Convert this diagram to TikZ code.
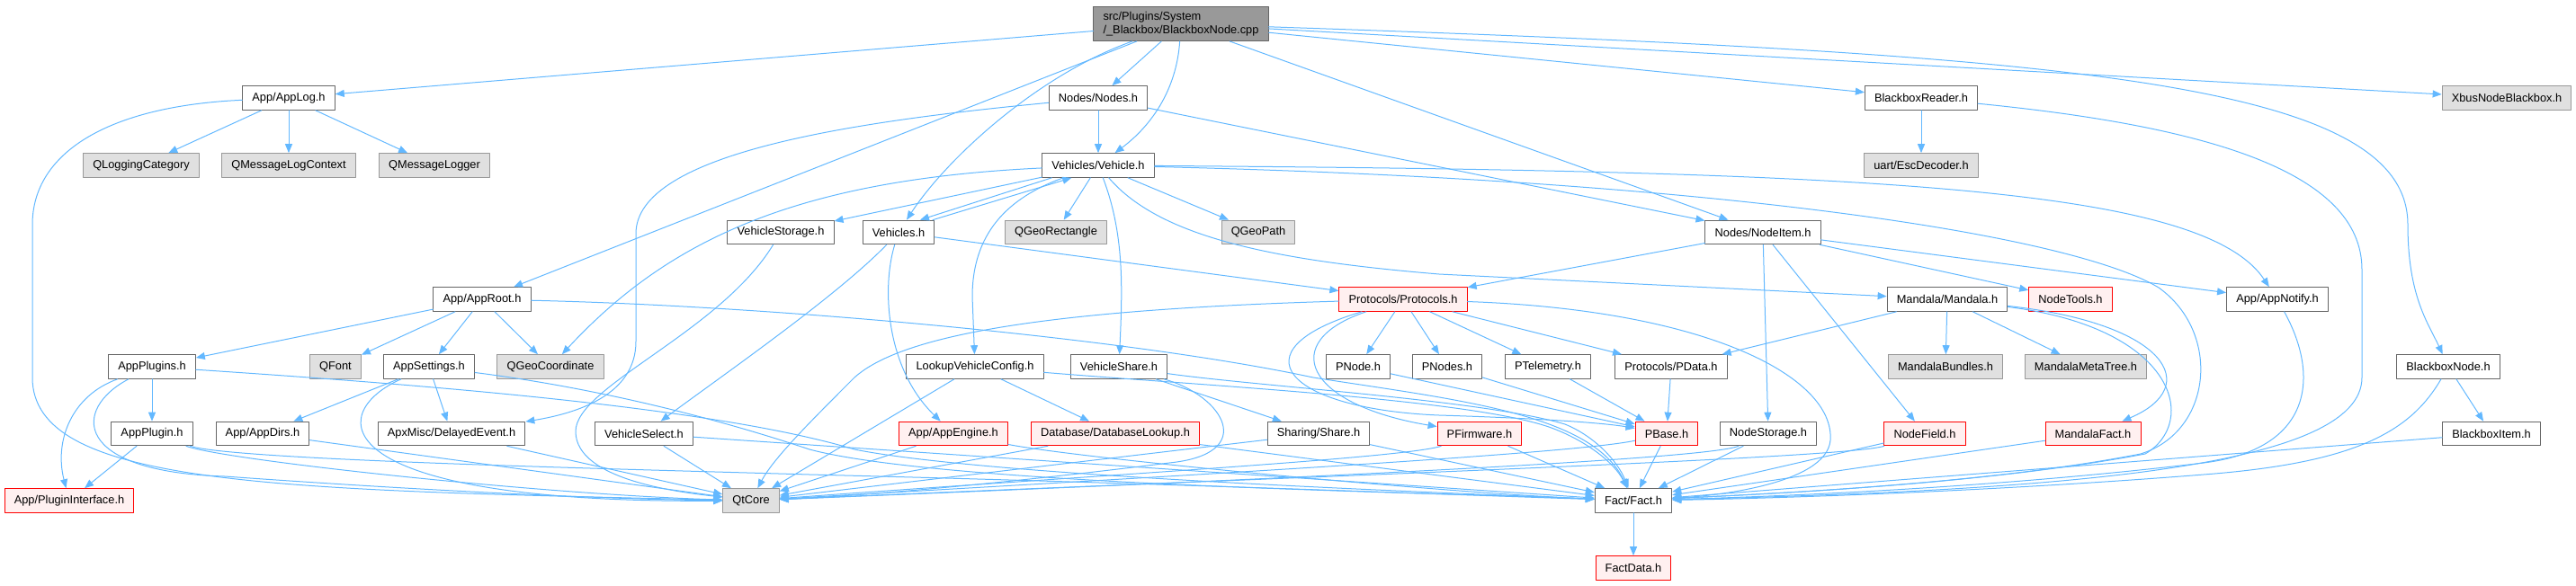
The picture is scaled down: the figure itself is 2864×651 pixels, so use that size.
\documentclass[tikz,border=0pt]{standalone}
\usepackage{fontspec}
\setmainfont{Liberation Sans}
\usetikzlibrary{arrows.meta}
\definecolor{edgeblue}{HTML}{63B8FF}
\definecolor{boxgray}{HTML}{666666}
\definecolor{extgray}{HTML}{999999}
\definecolor{extfill}{HTML}{E0E0E0}
\definecolor{rootfill}{HTML}{999999}
\definecolor{truncred}{HTML}{FF0000}
\definecolor{truncfill}{HTML}{FFF0F0}
\begin{document}
\begin{tikzpicture}[x=0.75pt, y=-0.75pt, line cap=round, line join=round,
    file/.style={draw=boxgray, fill=white, line width=0.75pt, inner xsep=8pt,
      inner ysep=0pt, minimum height=20pt, font=\fontsize{9.6}{11.5}\selectfont},
    extfile/.style={file, draw=extgray, fill=extfill},
    truncfile/.style={file, draw=truncred, fill=truncfill},
    rootfile/.style={file, fill=rootfill, align=left, inner ysep=4pt},
    dep/.style={draw=edgeblue, line width=0.75pt, -{Triangle[length=7.5pt, width=6pt]}}]
  \useasboundingbox (0,0) rectangle (2864,651);
  \node[rootfile] (root) at (1313,26.5) {src/Plugins/System\\/\_Blackbox/BlackboxNode.cpp};
  \node[file] (applog) at (321,109) {App/AppLog.h};
  \node[file] (nodes) at (1221,109) {Nodes/Nodes.h};
  \node[file] (bbreader) at (2136,109) {BlackboxReader.h};
  \node[extfile] (xbus) at (2787,109) {XbusNodeBlackbox.h};
  \node[extfile] (qlogcat) at (157,184) {QLoggingCategory};
  \node[extfile] (qmsgctx) at (321,184) {QMessageLogContext};
  \node[extfile] (qmsglog) at (483,184) {QMessageLogger};
  \node[file] (vehicle) at (1221,184) {Vehicles/Vehicle.h};
  \node[extfile] (escdec) at (2136,184) {uart/EscDecoder.h};
  \node[file] (vstorage) at (868,258.5) {VehicleStorage.h};
  \node[file] (vehicles) at (999,258.5) {Vehicles.h};
  \node[extfile] (qgeorect) at (1174,258.5) {QGeoRectangle};
  \node[extfile] (qgeopath) at (1399,258.5) {QGeoPath};
  \node[file] (nodeitem) at (1960,258.5) {Nodes/NodeItem.h};
  \node[file] (approot) at (536,333) {App/AppRoot.h};
  \node[truncfile] (protocols) at (1560,333) {Protocols/Protocols.h};
  \node[file] (mandala) at (2165,333) {Mandala/Mandala.h};
  \node[truncfile] (nodetools) at (2302,333) {NodeTools.h};
  \node[file] (appnotify) at (2532,333) {App/AppNotify.h};
  \node[file] (appplugins) at (169,408) {AppPlugins.h};
  \node[extfile] (qfont) at (373,408) {QFont};
  \node[file] (appsettings) at (477,408) {AppSettings.h};
  \node[extfile] (qgeocoord) at (612,408) {QGeoCoordinate};
  \node[file] (lookupcfg) at (1084,408) {LookupVehicleConfig.h};
  \node[file] (vshare) at (1244,408) {VehicleShare.h};
  \node[file] (pnode) at (1510,408) {PNode.h};
  \node[file] (pnodes) at (1609,408) {PNodes.h};
  \node[file] (ptelem) at (1721,408) {PTelemetry.h};
  \node[file] (pdata) at (1858,408) {Protocols/PData.h};
  \node[extfile] (mbundles) at (2163,408) {MandalaBundles.h};
  \node[extfile] (mmetatree) at (2319,408) {MandalaMetaTree.h};
  \node[file] (bbnode) at (2722,408) {BlackboxNode.h};
  \node[file] (appplugin) at (169,482.5) {AppPlugin.h};
  \node[file] (appdirs) at (292,482.5) {App/AppDirs.h};
  \node[file] (delayed) at (502,482.5) {ApxMisc/DelayedEvent.h};
  \node[file] (vselect) at (716,482.5) {VehicleSelect.h};
  \node[truncfile] (appengine) at (1060,482.5) {App/AppEngine.h};
  \node[truncfile] (dblookup) at (1240,482.5) {Database/DatabaseLookup.h};
  \node[file] (share) at (1466,482.5) {Sharing/Share.h};
  \node[truncfile] (pfirmware) at (1645,482.5) {PFirmware.h};
  \node[truncfile] (pbase) at (1853,482.5) {PBase.h};
  \node[file] (nodestorage) at (1966,482.5) {NodeStorage.h};
  \node[truncfile] (nodefield) at (2140,482.5) {NodeField.h};
  \node[truncfile] (mfact) at (2327,482.5) {MandalaFact.h};
  \node[file] (bbitem) at (2770,482.5) {BlackboxItem.h};
  \node[truncfile] (pluginif) at (77,557) {App/PluginInterface.h};
  \node[extfile] (qtcore) at (835,557) {QtCore};
  \node[file] (fact) at (1816,557) {Fact/Fact.h};
  \node[truncfile] (factdata) at (1816,632) {FactData.h};
  % includes of the source file
  \draw[dep] (root) -- (applog);
  \draw[dep] (root) -- (approot);
  \draw[dep] (root) .. controls (1150,85) and (1050,180) .. (vehicles);
  \draw[dep] (root) -- (nodes);
  \draw[dep] (root) .. controls (1308,100) and (1280,140) .. (vehicle);
  \draw[dep] (root) -- (nodeitem);
  \draw[dep] (root) -- (bbreader);
  \draw[dep] (root) -- (xbus);
  \draw[dep] (root) .. controls (2300,60) and (2677,90) .. (2677,250) .. controls (2677,330) and (2700,360) .. (bbnode);
  \draw[dep] (applog) -- (qlogcat);
  \draw[dep] (applog) -- (qmsgctx);
  \draw[dep] (applog) -- (qmsglog);
  \draw[dep] (applog) .. controls (120,118) and (36,170) .. (36,250) -- (36,420) .. controls (36,540) and (300,545) .. (qtcore);
  \draw[dep] (nodes) -- (vehicle);
  \draw[dep] (nodes) -- (nodeitem);
  \draw[dep] (nodes) .. controls (950,135) and (707,170) .. (707,260) -- (707,380) .. controls (707,440) and (640,460) .. (delayed);
  \draw[dep] (bbreader) -- (escdec);
  \draw[dep] (bbreader) .. controls (2450,140) and (2626,190) .. (2626,300) -- (2626,420) .. controls (2626,520) and (2300,545) .. (fact);
  % vehicle
  \draw[dep] (vehicle) -- (vstorage);
  \draw[dep] (vehicle.195) -- (vehicles.30);
  \draw[dep] (vehicles.20) -- (vehicle.205);
  \draw[dep] (vehicle) -- (qgeorect);
  \draw[dep] (vehicle) -- (qgeopath);
  \draw[dep] (vehicle) .. controls (880,200) and (740,270) .. (qgeocoord);
  \draw[dep] (vehicle) .. controls (1120,220) and (1081,260) .. (1081,330) -- (lookupcfg);
  \draw[dep] (vehicle) .. controls (1250,260) and (1248,320) .. (vshare);
  \draw[dep] (vehicle) .. controls (1290,265) and (1420,290) .. (1600,305) -- (mandala);
  \draw[dep] (vehicle) .. controls (2100,190) and (2450,210) .. (appnotify);
  \draw[dep] (vehicle) .. controls (1900,200) and (2300,260) .. (2400,320) .. controls (2470,370) and (2460,480) .. (2380,505) .. controls (2200,540) and (1950,550) .. (fact);
  \draw[dep] (vehicles) .. controls (930,330) and (800,420) .. (vselect);
  \draw[dep] (vehicles) .. controls (980,320) and (985,410) .. (appengine);
  \draw[dep] (vehicles) -- (protocols);
  \draw[dep] (vstorage) .. controls (800,370) and (640,430) .. (640,480) .. controls (640,535) and (760,548) .. (qtcore);
  \draw[dep] (nodeitem) -- (protocols);
  \draw[dep] (nodeitem) -- (nodetools);
  \draw[dep] (nodeitem) -- (appnotify);
  \draw[dep] (nodeitem) -- (nodestorage);
  \draw[dep] (nodeitem) -- (nodefield);
  % app
  \draw[dep] (approot) -- (appplugins);
  \draw[dep] (approot) -- (qfont);
  \draw[dep] (approot) -- (appsettings);
  \draw[dep] (approot) -- (qgeocoord);
  \draw[dep] (approot) .. controls (850,340) and (1250,375) .. (1460,420) .. controls (1620,445) and (1770,460) .. (fact);
  \draw[dep] (appplugins) -- (appplugin);
  \draw[dep] (appplugins) .. controls (80,440) and (60,490) .. (pluginif);
  \draw[dep] (appplugins) .. controls (80,455) and (80,525) .. (250,530) .. controls (500,548) and (700,556) .. (qtcore);
  \draw[dep] (appplugins) .. controls (500,430) and (800,455) .. (950,500) .. controls (1100,530) and (1600,548) .. (fact);
  \draw[dep] (appplugin) -- (pluginif);
  \draw[dep] (appplugin) .. controls (250,512) and (600,550) .. (qtcore);
  \draw[dep] (appplugin) .. controls (260,512) and (700,522) .. (900,528) .. controls (1300,538) and (1600,550) .. (fact);
  \draw[dep] (appdirs) -- (qtcore);
  \draw[dep] (appsettings) -- (appdirs);
  \draw[dep] (appsettings) -- (delayed);
  \draw[dep] (appsettings) .. controls (360,460) and (360,560) .. (qtcore);
  \draw[dep] (appsettings) .. controls (650,430) and (780,460) .. (900,500) .. controls (1050,540) and (1600,548) .. (fact);
  \draw[dep] (delayed) -- (qtcore);
  \draw[dep] (vselect) -- (qtcore);
  \draw[dep] (vselect) -- (fact);
  \draw[dep] (lookupcfg) -- (dblookup);
  \draw[dep] (lookupcfg) -- (qtcore);
  \draw[dep] (lookupcfg) .. controls (1350,430) and (1650,445) .. (1730,478) .. controls (1765,492) and (1795,515) .. (fact);
  \draw[dep] (vshare) -- (share);
  \draw[dep] (vshare) .. controls (1360,440) and (1400,505) .. (1300,515) .. controls (1100,540) and (950,552) .. (qtcore);
  \draw[dep] (vshare) .. controls (1400,430) and (1650,445) .. (1740,472) .. controls (1772,485) and (1798,512) .. (fact);
  \draw[dep] (appengine) -- (qtcore);
  \draw[dep] (appengine) .. controls (1200,510) and (1600,548) .. (fact);
  \draw[dep] (dblookup) -- (qtcore);
  \draw[dep] (dblookup) -- (fact);
  \draw[dep] (share) -- (qtcore);
  \draw[dep] (share) -- (fact);
  % protocols
  \draw[dep] (protocols) -- (pnode);
  \draw[dep] (protocols) -- (pnodes);
  \draw[dep] (protocols) -- (ptelem);
  \draw[dep] (protocols) -- (pdata);
  \draw[dep] (protocols) .. controls (1420,380) and (1450,450) .. (pfirmware);
  \draw[dep] (protocols) .. controls (1370,390) and (1430,455) .. (1600,462) .. controls (1700,465) and (1780,470) .. (pbase);
  \draw[dep] (protocols) .. controls (1900,345) and (2040,420) .. (2035,490) .. controls (2030,540) and (1900,552) .. (fact);
  \draw[dep] (protocols) .. controls (1150,345) and (1000,375) .. (950,420) .. controls (900,470) and (860,510) .. (qtcore);
  \draw[dep] (pnode) -- (pbase);
  \draw[dep] (pnodes) -- (pbase);
  \draw[dep] (ptelem) -- (pbase);
  \draw[dep] (pdata) -- (pbase);
  \draw[dep] (pfirmware) -- (fact);
  \draw[dep] (pfirmware) .. controls (1560,510) and (1200,530) .. (qtcore);
  \draw[dep] (pbase) -- (fact);
  \draw[dep] (pbase) .. controls (1750,505) and (1300,530) .. (qtcore);
  \draw[dep] (nodestorage) -- (fact);
  \draw[dep] (nodestorage) .. controls (1900,510) and (1500,530) .. (qtcore);
  \draw[dep] (nodefield) -- (fact);
  \draw[dep] (nodefield) .. controls (2050,510) and (1500,528) .. (qtcore);
  % mandala and blackbox
  \draw[dep] (mandala) -- (pdata);
  \draw[dep] (mandala) -- (mbundles);
  \draw[dep] (mandala) -- (mmetatree);
  \draw[dep] (mandala) .. controls (2410,360) and (2450,430) .. (mfact);
  \draw[dep] (mandala) .. controls (2420,365) and (2445,470) .. (2385,505) .. controls (2200,540) and (1950,550) .. (fact);
  \draw[dep] (mfact) -- (fact);
  \draw[dep] (appnotify) .. controls (2580,420) and (2570,500) .. (2450,515) .. controls (2200,545) and (1950,553) .. (fact);
  \draw[dep] (bbnode) -- (bbitem);
  \draw[dep] (bbnode) .. controls (2680,480) and (2620,515) .. (2450,528) .. controls (2200,548) and (1950,555) .. (fact);
  \draw[dep] (bbitem) -- (fact);
  \draw[dep] (fact) -- (factdata);
\end{tikzpicture}
\end{document}
